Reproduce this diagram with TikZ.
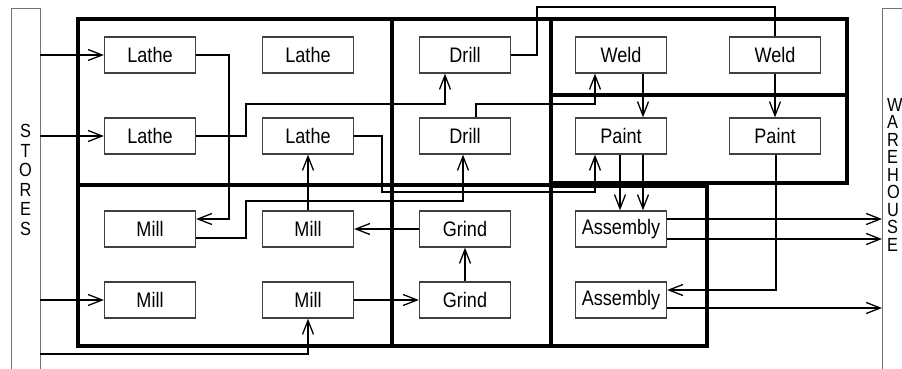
\documentclass[tikz,border=0pt]{standalone}
\usepackage{fontspec}
\setmainfont{Liberation Sans}[FakeStretch=0.86]
\usetikzlibrary{positioning,arrows.meta,calc}

\tikzset{
  machine/.style={draw=black!75,line width=1.3pt,fill=white,
    minimum width=91pt,minimum height=36pt,inner sep=0pt,
    font=\fontsize{21}{23}\selectfont},
  cell/.style={line width=3.5pt},
  conn/.style={line width=2pt},
  yard/.style={draw=black!55,line width=0.9pt,anchor=north west,
    inner sep=0pt,outer sep=0pt,minimum height=420pt},
  yardtext/.style={inner sep=0pt,font=\fontsize{19}{19.5}\selectfont},
}

\begin{document}
\begin{tikzpicture}[x=1pt,y=-1pt,>={Straight Barb[length=14pt,width=11pt,line width=1.3pt]}]
\useasboundingbox (0,0) rectangle (902,369);
\clip (0,0) rectangle (902,369);

% departments
\draw[cell] (78,19) rectangle (392,185);
\draw[cell] (78,185) rectangle (392,346);
\draw[cell] (392,19) rectangle (551,185);
\draw[cell] (392,185) rectangle (551,346);
\draw[cell] (551,19) rectangle (847,95);
\draw[cell] (551,95) rectangle (847,183);
\draw[cell] (551,186) rectangle (707,346);

% stores and warehouse
\node[yard,minimum width=29pt] (Stores) at (11,8) {};
\node[yard,minimum width=60pt] (Warehouse) at (882,8) {};
\node[yardtext,align=center] (StoresText) at (25.5,180) {S\\T\\O\\R\\E\\S};
\node[yardtext,align=left,anchor=north west,font=\fontsize{19}{17.5}\selectfont]
  (WarehouseText) at (887,98) {W\\A\\R\\E\\H\\O\\U\\S\\E};
\coordinate (StoresFoot) at (40,354);

% machines
\node[machine] (LatheA) at (150,55) {Lathe};
\node[machine] (LatheB) at (308,55) {Lathe};
\node[machine] (LatheC) at (150,136) {Lathe};
\node[machine] (LatheD) at (308,136) {Lathe};
\node[machine] (DrillA) at (465,55) {Drill};
\node[machine] (DrillB) at (465,136) {Drill};
\node[machine] (WeldA) at (621,55) {Weld};
\node[machine] (WeldB) at (775,55) {Weld};
\node[machine] (PaintA) at (621,136) {Paint};
\node[machine] (PaintB) at (775,136) {Paint};
\node[machine] (MillA) at (150,229) {Mill};
\node[machine] (MillB) at (308,229) {Mill};
\node[machine] (MillC) at (150,300) {Mill};
\node[machine] (MillD) at (308,300) {Mill};
\node[machine] (GrindA) at (465,229) {Grind};
\node[machine] (GrindB) at (465,300) {Grind};
\node[machine] (AssemblyA) at (621,229) {Assembly};
\node[machine] (AssemblyB) at (621,300) {Assembly};

% flows
\draw[conn,->] (Stores.east |- LatheA) -- (LatheA.west);
\draw[conn,->] (Stores.east |- LatheC) -- (LatheC.west);
\draw[conn,->] (Stores.east |- MillC) -- (MillC.west);
\draw[conn,->] (StoresFoot) -| (MillD.south);

\draw[conn,->] (LatheA.east) -| (229,219) -- ([yshift=10pt]MillA.east);
\draw[conn,->] (LatheC.east) -| (246,104) -| ([xshift=-20pt]DrillA.south);
\draw[conn,->] ([yshift=-9pt]MillA.east) -| (246,201) -| ([xshift=-2pt]DrillB.south);
\draw[conn,->] (LatheD.east) -| (382,192) -| ([xshift=-26pt]PaintA.south);
\draw[conn,->] ([xshift=11pt]DrillB.north) |- (595,104) -- ([xshift=-26pt]WeldA.south);
\draw[conn] (DrillA.east) -| (537,7) -| (WeldB.north);

\draw[conn,->] ([xshift=22pt]WeldA.south) -- ([xshift=22pt]PaintA.north);
\draw[conn,->] (WeldB.south) -- (PaintB.north);
\draw[conn,->] ([xshift=-1pt]PaintA.south) -- ([xshift=-1pt]AssemblyA.north);
\draw[conn,->] ([xshift=22pt]PaintA.south) -- ([xshift=22pt]AssemblyA.north);
\draw[conn,->] ([xshift=1pt]PaintB.south) |- ([yshift=10pt]AssemblyB.east);

\draw[conn,->] (MillB.north) -- (LatheD.south);
\draw[conn,->] (GrindA.west) -- (MillB.east);
\draw[conn,->] (GrindB.north) -- (GrindA.south);
\draw[conn,->] (MillD.east) -- (GrindB.west);

\draw[conn,->] ([yshift=10pt]AssemblyA.east) -- ([yshift=10pt]AssemblyA.east -| Warehouse.west);
\draw[conn,->] ([yshift=-10pt]AssemblyA.east) -- ([yshift=-10pt]AssemblyA.east -| Warehouse.west);
\draw[conn,->] ([yshift=-8pt]AssemblyB.east) -- ([yshift=-8pt]AssemblyB.east -| Warehouse.west);
\end{tikzpicture}
\end{document}
